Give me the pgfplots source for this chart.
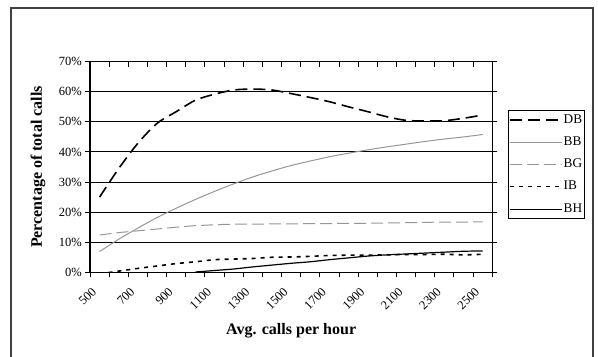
\documentclass[border=0pt]{standalone}
\usepackage{fontspec}
\setmainfont{Liberation Serif}
\usepackage{pgfplots}
\pgfplotsset{compat=1.18}
\definecolor{lgray}{RGB}{150,150,150}
\begin{document}
\begin{tikzpicture}[x=1bp,y=1bp]
\useasboundingbox (0,0) rectangle (598,-356);
\draw[line width=1.3bp, black!75] (11,-8) rectangle (593,-380);
\begin{axis}[
  at={(90bp,-272.3bp)}, anchor=south west,
  scale only axis, width=402.3bp, height=210.6bp,
  xmin=450, xmax=2550, ymin=0, ymax=70,
  xtick={500,700,...,2500},
  xticklabels={500,700,900,1100,1300,1500,1700,1900,2100,2300,2500},
  minor xtick={450,550,...,2550},
  ytick={0,10,...,70},
  yticklabel={\pgfmathprintnumber{\tick}\%},
  /pgf/number format/assume math mode=true,
  tick align=center,
  major tick length=10bp, minor tick length=5bp,
  major x tick style={draw=none},
  minor x tick style={black, line width=1bp, yshift=-2.5bp},
  major y tick style={black, line width=1bp},
  ymajorgrids, major grid style={black, line width=1bp},
  axis line style={black, line width=1.5bp},
  ticklabel style={font=\fontsize{12.5bp}{14bp}\selectfont},
  xticklabel style={xshift=-5bp, yshift=-12bp, rotate=45, anchor=east, inner sep=0.5bp},
  yticklabel style={inner sep=1bp, xshift=-2bp},
  xlabel={Avg. calls per hour},
  ylabel={Percentage of total calls},
  label style={font=\bfseries\fontsize{16bp}{18bp}\selectfont},
  xlabel style={at={(axis description cs:0.5,-0.279)}, anchor=center},
  ylabel style={at={(axis description cs:-0.129,0.5)}, anchor=center},
  legend image code/.code={\draw[#1, line width=1.1bp] (0bp,0bp) -- (52bp,0bp);},
  legend cell align=left,
  legend style={at={(axis description cs:1.039,0.771)}, anchor=north west,
    draw=black, line width=1.2bp, font=\fontsize{13.3bp}{15bp}\selectfont,
    inner xsep=1bp, inner ysep=2.5bp, row sep=8.3bp,
    nodes={inner xsep=1bp, inner ysep=1bp, text height=9bp, text depth=3bp}},
]
\addplot[black, line width=1.6bp, dash pattern=on 12bp off 6bp, smooth] coordinates {
(500,25.0) (600,34.5) (700,42.9) (800,49.5) (900,53.4) (1000,57.2) (1100,59.2)
(1200,60.6) (1300,60.9) (1400,60.6) (1500,59.4) (1600,58.1) (1700,56.7) (1800,55.0)
(1900,53.4) (2000,51.7) (2100,50.5) (2200,50.3) (2300,50.4) (2400,51.2) (2500,52.3)};
\addlegendentry{DB}
\addplot[lgray, line width=1bp, smooth] coordinates {
(500,6.9) (600,11.0) (700,14.7) (800,18.2) (900,21.3) (1000,24.2) (1100,26.9)
(1200,29.4) (1300,31.7) (1400,33.7) (1500,35.5) (1600,37.0) (1700,38.4) (1800,39.6)
(1900,40.7) (2000,41.7) (2100,42.6) (2200,43.5) (2300,44.3) (2400,45.0) (2500,45.8)};
\addlegendentry{BB}
\addplot[lgray, line width=1bp, dash pattern=on 12bp off 5bp, smooth] coordinates {
(500,12.4) (600,13.2) (700,13.8) (800,14.4) (900,15.0) (1000,15.5) (1100,15.8)
(1200,16.0) (1300,16.0) (1400,16.1) (1500,16.1) (1600,16.2) (1700,16.2) (1800,16.3)
(1900,16.3) (2000,16.4) (2100,16.5) (2200,16.6) (2300,16.7) (2400,16.7) (2500,16.8)};
\addlegendentry{BG}
\addplot[black, line width=1.6bp, dash pattern=on 4bp off 5bp, smooth] coordinates {
(500,-0.5) (600,0.4) (700,1.3) (800,2.1) (900,2.9) (1000,3.5) (1100,4.2)
(1200,4.4) (1300,4.6) (1400,5.0) (1500,5.1) (1600,5.3) (1700,5.6) (1800,5.7)
(1900,5.7) (2000,5.8) (2100,5.9) (2200,5.9) (2300,6.0) (2400,5.8) (2500,6.0)};
\addlegendentry{IB}
\addplot[black, line width=1.2bp, smooth] coordinates {
(1000,0.1) (1100,0.6) (1200,1.1) (1300,1.8) (1400,2.4) (1500,3.0) (1600,3.5)
(1700,4.2) (1800,4.8) (1900,5.4) (2000,5.8) (2100,6.1) (2200,6.4) (2300,6.7)
(2400,7.0) (2500,7.1)};
\addlegendentry{BH}
\end{axis}
\end{tikzpicture}
\end{document}
